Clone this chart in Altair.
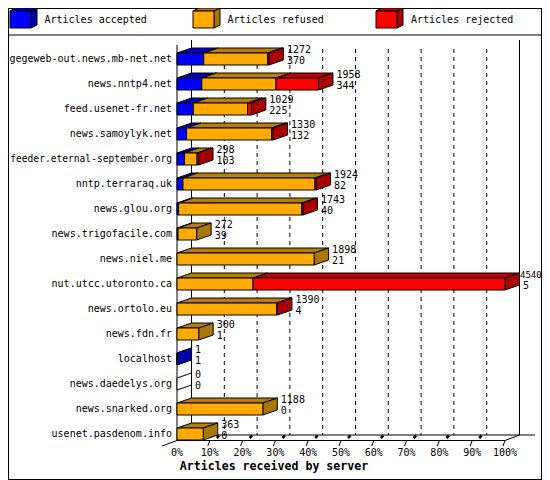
import altair as alt
import pandas as pd

servers = ["gegeweb-out.news.mb-net.net", "news.nntp4.net", "feed.usenet-fr.net", "news.samoylyk.net",
           "feeder.eternal-september.org", "nntp.terraraq.uk", "news.glou.org", "news.trigofacile.com",
           "news.niel.me", "nut.utcc.utoronto.ca", "news.ortolo.eu", "news.fdn.fr", "localhost",
           "news.daedelys.org", "news.snarked.org", "usenet.pasdenom.info"]
total = [1272, 1958, 1029, 1330, 298, 1924, 1743, 272, 1898, 4540, 1390, 300, 1, 0, 1188, 363]
accepted = [370, 344, 225, 132, 103, 82, 40, 39, 21, 5, 4, 1, 1, 0, 0, 0]
accepted_drawn = [370, 344, 225, 132, 103, 82, 22, 14, 0, 0, 0, 0, 1, 0, 0, 0]
rejected = [18, 588, 53, 19, 20, 15, 15, 0, 0, 3488, 8, 0, 0, 0, 0, 0]
ticks = list(range(0, 101, 10))
legend_names = ["Articles accepted", "Articles refused", "Articles rejected"]

FRONT = {"a": "#0000ff", "f": "#ffaa00", "r": "#ff0000", "n": "#ffffff"}
DARK = {"a": "#0000aa", "f": "#aa7700", "r": "#aa0000", "n": "#ffffff"}
TOP = {"a": "#0000c0", "f": "#b88000", "r": "#c00000", "n": "#ffffff"}

W, H = 534, 472
OFF = 8
X0, PXP = 177.0, 3.28
Y0, ROW = 65.0, 25.0


def px(v):
    return (v - X0) / PXP


def ry(v):
    return (v - Y0) / ROW


DX, DY = 14.5 / PXP, 5 / ROW
BH = 12 / ROW
xs = alt.Scale(domain=[px(OFF), px(OFF + W)], range=[0, W])
ys = alt.Scale(domain=[ry(OFF), ry(OFF + H)], range=[0, H])
X = alt.X("x:Q", scale=xs, axis=None)
Y = alt.Y("y:Q", scale=ys, axis=None)
C = alt.Color("c:N", scale=None, legend=None)
FS = alt.Size("fs:Q", scale=None, legend=None)

front, top, side, text = [], [], [], []
for r, (t, a, d, j) in enumerate(zip(total, accepted, accepted_drawn, rejected)):
    segs = [("a", 0, d), ("f", d, t - j), ("r", t - j, t)]
    last = "n"
    for k, s, e in segs:
        p0, p1 = s / 45.40, e / 45.40
        if e > s:
            last = k
            front.append(dict(x=p0, x2=p1, y=r - BH, y2=r, c=FRONT[k]))
            for dx, dy in ((0, 0), (DX, -DY)):
                top.append(dict(id=f"{r}{k}", x=p0 + dx, x2=p1 + dx, y=r - BH + dy, c=TOP[k]))
    pe = t / 45.40
    for dx, dy in ((0, 0), (DX, -DY)):
        side.append(dict(id=f"{r}", x=pe + dx, y=r - BH + dy, y2=r + dy, c=DARK[last]))
    lx = pe + DX + 3.5 / PXP
    fs = 9 if t == 4540 else 10
    text.append(dict(x=lx - (3 / PXP if t == 4540 else 0), y=r - 15 / ROW, t=str(t), fs=fs))
    text.append(dict(x=lx, y=r - 4 / ROW, t=str(a), fs=10))

# legend swatches
for i, k in enumerate("afr"):
    x0 = [10, 193, 376][i]
    front.append(dict(x=px(x0), x2=px(x0 + 21), y=ry(11), y2=ry(28), c=FRONT[k]))
    for dx, dy in ((0, 0), (6, -3)):
        top.append(dict(id=f"L{k}", x=px(x0 + dx), x2=px(x0 + 21 + dx), y=ry(11 + dy), c=TOP[k]))
        side.append(dict(id=f"L{k}", x=px(x0 + 21 + dx), y=ry(11 + dy), y2=ry(28 + dy), c=DARK[k]))

fr = pd.DataFrame(front)
tp = pd.DataFrame(top)
sd = pd.DataFrame(side)
tx = pd.DataFrame(text)

grid = pd.DataFrame([dict(x=p + DX, y=ry(49), y2=ry(435)) for p in ticks[1:-1]])
back = pd.DataFrame([dict(x=px(191.5), y=ry(40), y2=ry(435)), dict(x=px(519.5), y=ry(40), y2=ry(435)),
                     dict(x=0, y=ry(45), y2=ry(440.5))])
hl = pd.DataFrame([dict(x=px(OFF), x2=px(OFF + W), y=ry(35)),
                   dict(x=px(191.5), x2=px(535), y=ry(435)),
                   dict(x=0, x2=100, y=ry(440.5))])
diag = [dict(id="l", x=0, y=ry(440.5)), dict(id="l", x=px(162), y=ry(446)),
        dict(id="r", x=100, y=ry(440.5)), dict(id="r", x=px(519.5), y=ry(435))]
blob = []
for p in ticks[1:]:
    diag += [dict(id=f"t{p}", x=p, y=ry(440.5)), dict(id=f"t{p}", x=p - 2 / PXP, y=ry(446))]
    if p < 100:
        blob += [dict(id=f"b{p}", x=p + 7 / PXP, y=ry(438)), dict(id=f"b{p}", x=p + 9.5 / PXP, y=ry(435.5))]
dg = pd.DataFrame(diag)
bl = pd.DataFrame(blob)

ytxt = pd.DataFrame(dict(y=range(16), t=servers, fs=[9.6 if len(s) > 27 else 10 for s in servers]))
xtxt = pd.DataFrame(dict(x=ticks, t=[f"{p}%" for p in ticks], y=ry(453)))
ltxt = pd.DataFrame(dict(x=[px(44.5), px(227.5), px(411)], y=ry(20), t=legend_names))

FONT = "DejaVu Sans Mono"
layers = [
    alt.Chart(grid).mark_rule(color="black", strokeDash=[4, 4], strokeWidth=1).encode(X, Y, y2="y2:Q"),
    alt.Chart(back).mark_rule(color="black", strokeWidth=1).encode(X, Y, y2="y2:Q"),
    alt.Chart(hl).mark_rule(color="black", strokeWidth=1).encode(X, x2="x2:Q", y=Y),
    alt.Chart(dg).mark_line(color="black", strokeWidth=1).encode(X, Y, detail="id:N"),
    alt.Chart(bl).mark_line(color="black", strokeWidth=2.5).encode(X, Y, detail="id:N"),
    alt.Chart(tp).mark_area(orient="horizontal", stroke="black", strokeWidth=1).encode(
        X, x2="x2:Q", y=Y, color=C, detail="id:N"),
    alt.Chart(sd).mark_area(orient="vertical", stroke="black", strokeWidth=1).encode(
        X, y=Y, y2="y2:Q", color=C, detail="id:N"),
    alt.Chart(fr).mark_rect(stroke="black", strokeWidth=1).encode(X, x2="x2:Q", y=Y, y2="y2:Q", color=C),
    alt.Chart(tx).mark_text(font=FONT, align="left", baseline="middle").encode(X, Y, text="t:N", size=FS),
    alt.Chart(ltxt).mark_text(font=FONT, fontSize=10, align="left", baseline="middle").encode(X, Y, text="t:N"),
    alt.Chart(xtxt).mark_text(font=FONT, fontSize=10, align="center", baseline="middle").encode(X, Y, text="t:N"),
    alt.Chart(ytxt.assign(x=px(172), y=ytxt.y - 0.24)).mark_text(font=FONT, align="right", baseline="middle").encode(
        X, Y, text="t:N", size=FS),
    alt.Chart(pd.DataFrame(dict(x=[px(274)], y=[ry(467)], t=["Articles received by server"]))).mark_text(
        font=FONT, fontSize=11.6, fontWeight="bold", align="center", baseline="middle").encode(X, Y, text="t:N"),
]

chart = alt.layer(*layers).properties(width=W, height=H, padding=0, autosize="none", background="white").configure_view(
    stroke="black", strokeWidth=2)
chart.save("out.html", embed_options={"renderer": "svg", "actions": False})
